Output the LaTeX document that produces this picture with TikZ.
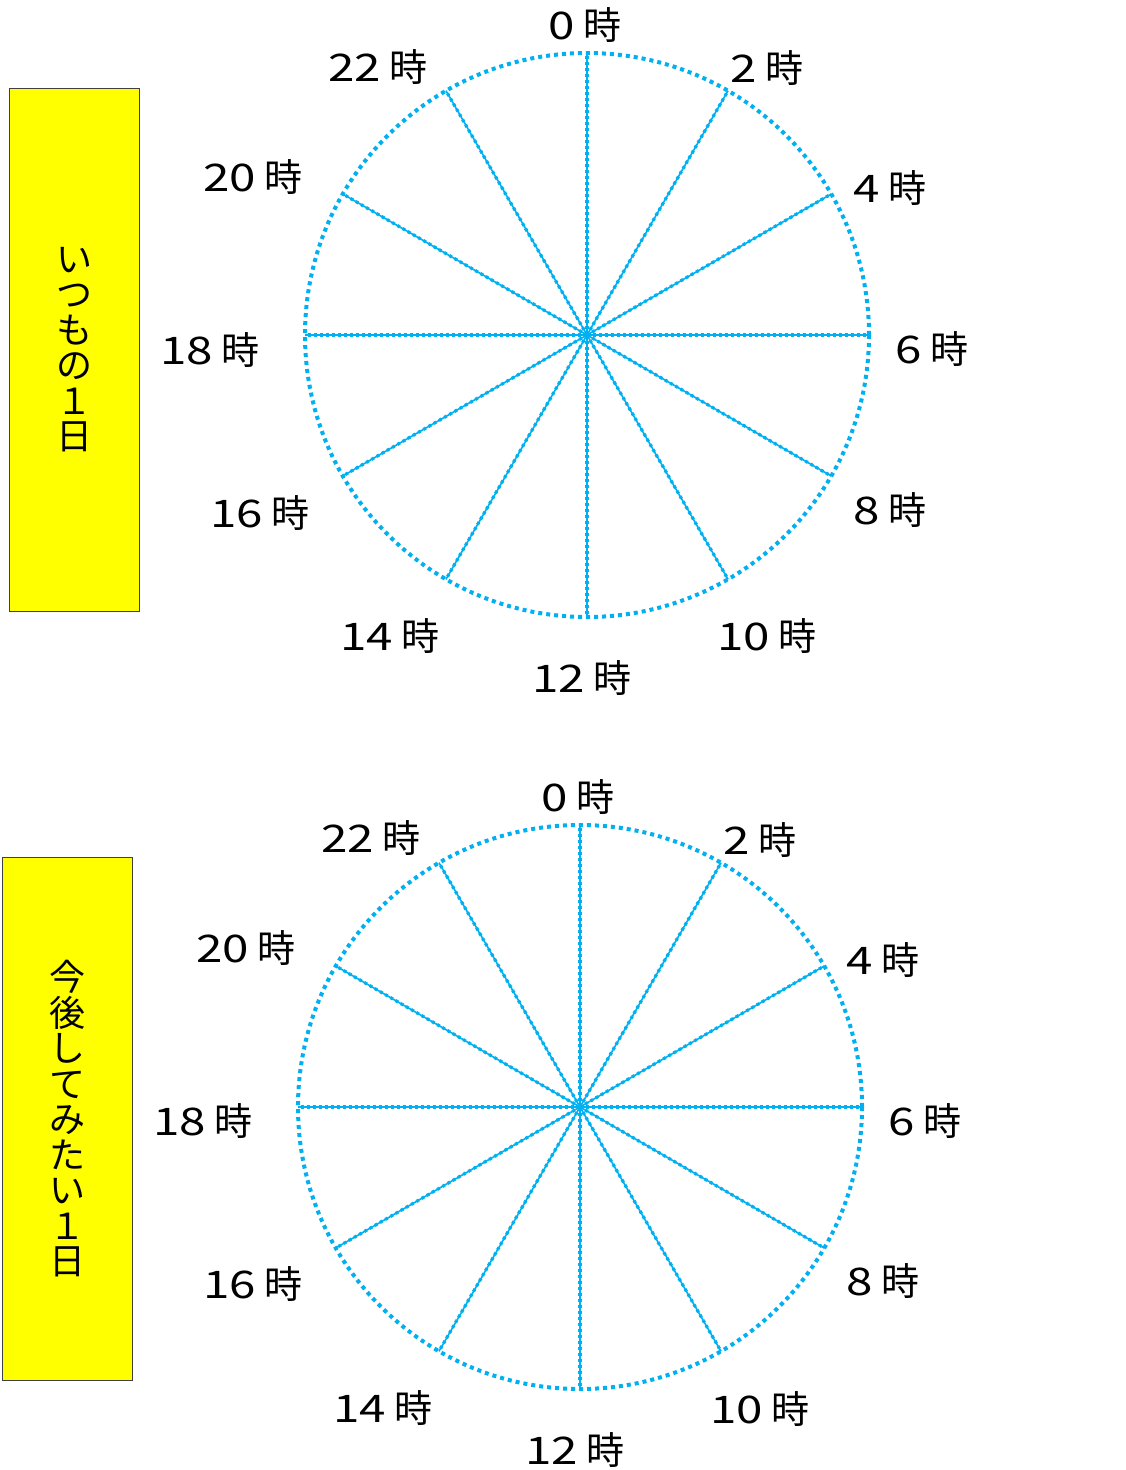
\documentclass[tikz,border=0pt]{standalone}
\usepackage{fontspec}
\setmainfont{Noto Sans CJK JP}
\usepackage{graphicx}
\newcommand\hourdigits[1]{\scalebox{1.25}[1]{#1}}
\begin{document}
\begin{tikzpicture}[x=1pt,y=-1pt]
\definecolor{clk}{HTML}{00B0F0}
\definecolor{tagfill}{HTML}{FFFF00}
\tikzset{
  rim/.style={draw=clk,line width=4pt,dash pattern=on 4pt off 4pt},
  spokeline/.style={draw=clk,line width=1.6pt},
  spokedots/.style={draw=clk,line width=3.2pt,dash pattern=on 3pt off 3pt},
  hour/.style={font=\fontsize{38}{38}\selectfont,inner sep=0pt},
  tag/.style={draw=black!75,line width=1pt,fill=tagfill,minimum width=130pt,minimum height=523pt,
    align=center,font=\fontsize{36}{35.5}\selectfont,inner sep=0pt}
}
\useasboundingbox (0,0) rectangle (1126,1470);
\fill[white] (0,0) rectangle (1126,1470);

% tags
\node[tag] (tag1) at (74,349.5) {い\\つ\\も\\の\\１\\日};
\node[tag] (tag2) at (67,1119) {今\\後\\し\\て\\み\\た\\い\\１\\日};

% clocks
\coordinate (c1) at (587,335);
\coordinate (c2) at (580,1107);
\foreach \c in {c1,c2}{
  \foreach \i in {0,...,11}{
    \path (\c) ++({-90+30*\i}:282) coordinate (\c p\i);
    \draw[spokeline] (\c) -- (\c p\i);
    \draw[spokedots] (\c) -- (\c p\i);
  }
  \draw[rim] (\c) circle[radius=282];
}

% labels clock 1
\node[hour] (a0)  at (585,25)  {\hourdigits{0} 時};
\node[hour] (a2)  at (767,68)  {\hourdigits{2} 時};
\node[hour] (a4)  at (890,188) {\hourdigits{4} 時};
\node[hour] (a6)  at (932,349) {\hourdigits{6} 時};
\node[hour] (a8)  at (890,510) {\hourdigits{8} 時};
\node[hour] (a10) at (767,636) {\hourdigits{10} 時};
\node[hour] (a12) at (582,678) {\hourdigits{12} 時};
\node[hour] (a14) at (390,636) {\hourdigits{14} 時};
\node[hour] (a16) at (260,513) {\hourdigits{16} 時};
\node[hour] (a18) at (210,350) {\hourdigits{18} 時};
\node[hour] (a20) at (253,177) {\hourdigits{20} 時};
\node[hour] (a22) at (378,67)  {\hourdigits{22} 時};

% labels clock 2
\node[hour] (b0)  at (578,797)  {\hourdigits{0} 時};
\node[hour] (b2)  at (760,840)  {\hourdigits{2} 時};
\node[hour] (b4)  at (883,960)  {\hourdigits{4} 時};
\node[hour] (b6)  at (925,1121) {\hourdigits{6} 時};
\node[hour] (b8)  at (883,1281) {\hourdigits{8} 時};
\node[hour] (b10) at (760,1409) {\hourdigits{10} 時};
\node[hour] (b12) at (575,1450) {\hourdigits{12} 時};
\node[hour] (b14) at (383,1408) {\hourdigits{14} 時};
\node[hour] (b16) at (253,1284) {\hourdigits{16} 時};
\node[hour] (b18) at (203,1121) {\hourdigits{18} 時};
\node[hour] (b20) at (246,948)  {\hourdigits{20} 時};
\node[hour] (b22) at (371,838)  {\hourdigits{22} 時};
\end{tikzpicture}
\end{document}
